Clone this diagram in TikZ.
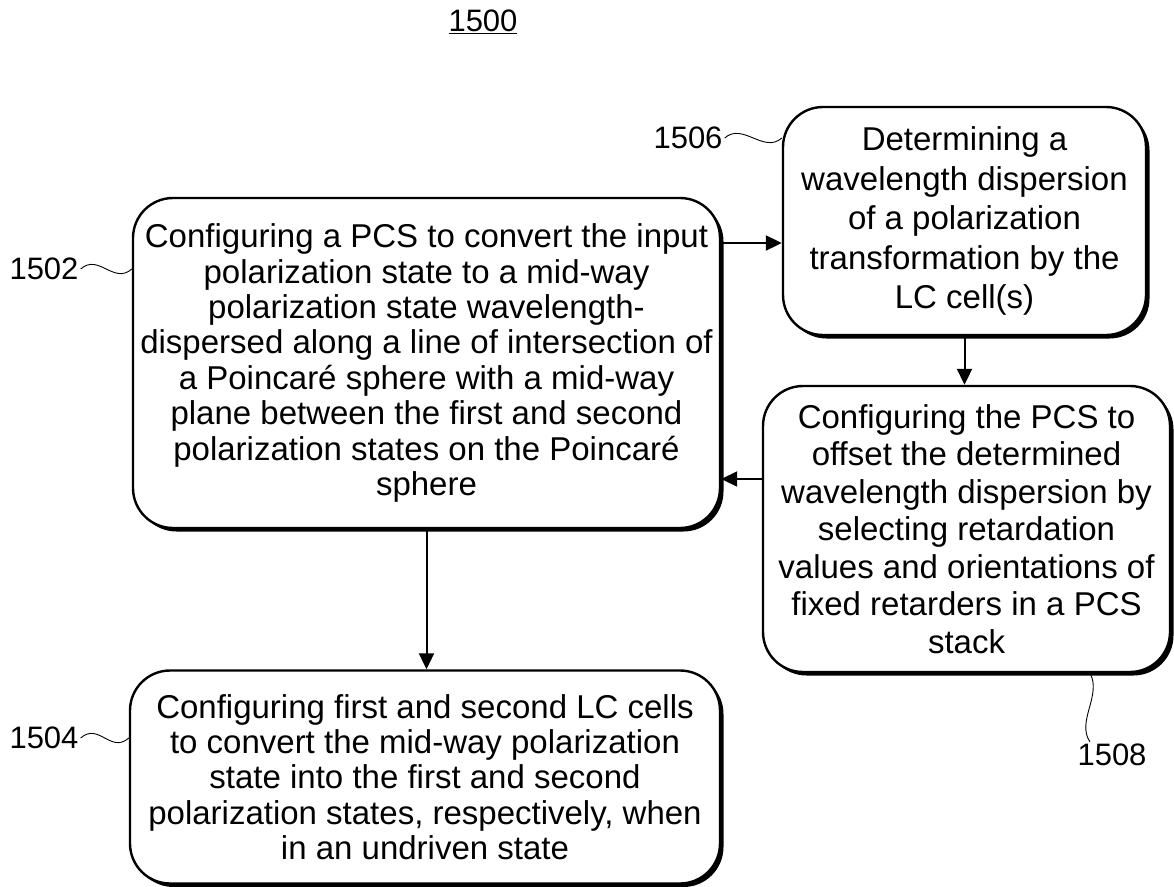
\documentclass[tikz,border=0pt]{standalone}
\usepackage{fontspec}
\setmainfont{Liberation Sans}
\usetikzlibrary{arrows.meta,shadows}

\tikzset{
  stepbox/.style={draw, line width=2.4pt, rounded corners=40pt, fill=white, inner sep=0pt,
    align=center, font=\fontsize{33}{35.4}\selectfont,
    drop shadow={shadow xshift=3.5pt, shadow yshift=-3.5pt, fill=black, opacity=1}},
  reflabel/.style={inner sep=2pt, font=\fontsize{31}{35}\selectfont},
  flow/.style={line width=2pt, -{Triangle[length=16pt,width=15pt]}},
  leadline/.style={line width=0.9pt},
}

\begin{document}
\begin{tikzpicture}[x=1pt,y=-1pt]
  \useasboundingbox (0,0) rectangle (1174,886);

  % figure number
  \node[reflabel] (title) at (483,22) {\underline{1500}};

  % steps
  \node[stepbox, minimum width=587pt, minimum height=330pt] (b1502) at (426.5,363)
    {Configuring a PCS to convert the input\\
     polarization state to a mid-way\\
     polarization state wavelength-\\
     dispersed along a line of intersection of\\
     a Poincaré sphere with a mid-way\\
     plane between the first and second\\
     polarization states on the Poincaré\\
     sphere};

  \node[stepbox, minimum width=363pt, minimum height=228pt,
    font=\fontsize{33}{39.5}\selectfont] (b1506) at (964.5,221)
    {Determining a\\ wavelength dispersion\\ of a polarization\\
     transformation by the\\ LC cell(s)};

  \node[stepbox, minimum width=407pt, minimum height=286pt,
    font=\fontsize{33}{37.5}\selectfont] (b1508) at (966.5,529)
    {Configuring the PCS to\\ offset the determined\\ wavelength dispersion by\\
     selecting retardation\\ values and orientations of\\ fixed retarders in a PCS\\ stack};

  \node[stepbox, minimum width=590pt, minimum height=213pt] (b1504) at (425,777)
    {Configuring first and second LC cells\\
     to convert the mid-way polarization\\
     state into the first and second\\
     polarization states, respectively, when\\
     in an undriven state};

  % reference numerals
  \node[reflabel] (l1502) at (44,269) {1502};
  \node[reflabel] (l1504) at (44,738) {1504};
  \node[reflabel] (l1506) at (688,138) {1506};
  \node[reflabel] (l1508) at (1112,755) {1508};

  % arrows
  \coordinate (y1506) at (0,243);
  \coordinate (y1508) at (0,479);
  \draw[flow] (b1502.east |- y1506) -- (b1506.west |- y1506);
  \draw[flow] (b1506.south) -- (b1506.south |- b1508.north);
  \draw[flow] (b1508.west |- y1508) -- (b1502.east |- y1508);
  \draw[flow] (b1502.south) -- (b1502.south |- b1504.north);

  % lead lines
  \draw[leadline] (l1502.east) .. controls +(18,-16) and +(-18,16) .. (b1502.west |- l1502.east);
  \draw[leadline] (l1504.east) .. controls +(18,-16) and +(-18,16) .. (b1504.west |- l1504.east);
  \draw[leadline] (l1506.east) .. controls +(18,-16) and +(-18,16) .. (b1506.west |- l1506.east);
  \coordinate (e1508) at ([xshift=-22pt]l1508.north);
  \draw[leadline] (e1508) .. controls +(-14,-20) and +(12,22) .. (e1508 |- b1508.south);
\end{tikzpicture}
\end{document}
